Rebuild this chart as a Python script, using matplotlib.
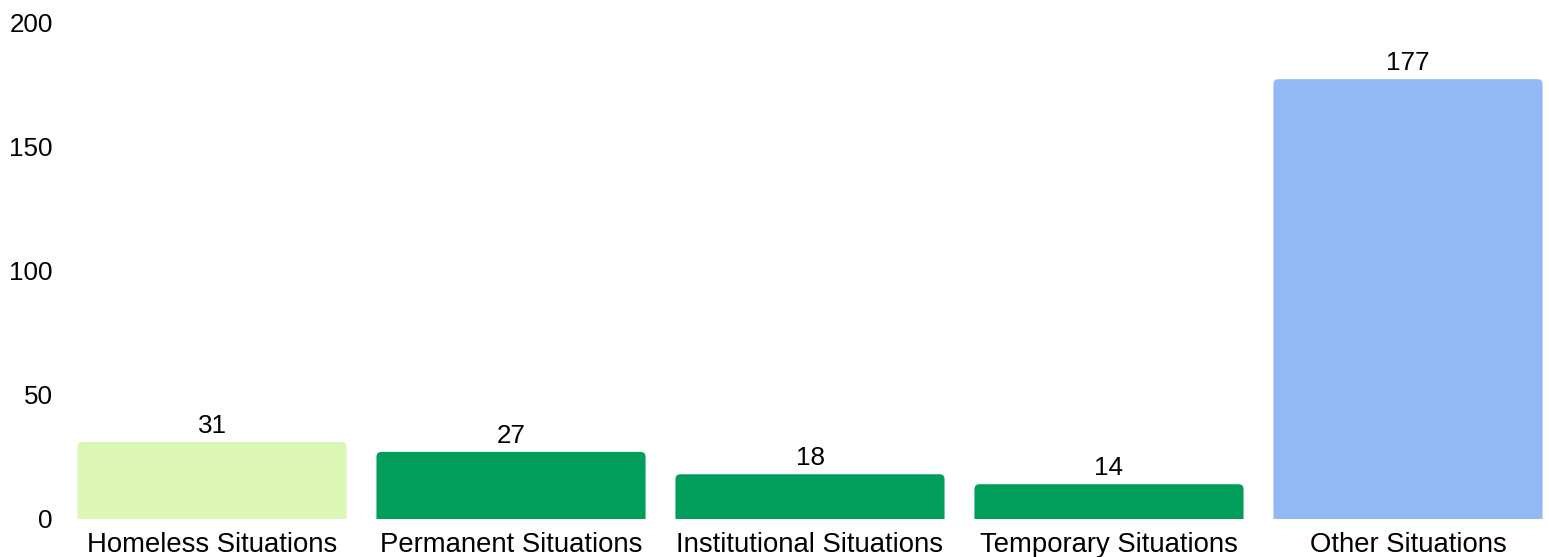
import matplotlib
matplotlib.use('Agg')
import matplotlib.pyplot as plt
from matplotlib.patches import FancyBboxPatch

categories = ['Homeless Situations', 'Permanent Situations', 'Institutional Situations',
              'Temporary Situations', 'Other Situations']
values = [31, 27, 18, 14, 177]
colors = ['#dbf6b5', '#009e5a', '#009e5a', '#009e5a', '#93b9f4']
y_ticks = [0, 50, 100, 150, 200]

plt.rcParams['font.family'] = ['Liberation Sans', 'DejaVu Sans']

W, H = 1549, 557
fig = plt.figure(figsize=(W / 100, H / 100), dpi=100)
# plot area in pixels: left 62.5, top 22, bottom 519, slot width 299 px
left_px, top_px, bot_px, slot_px = 62.5, 22, 519, 299
ax = fig.add_axes([left_px / W, (H - bot_px) / H, (W - left_px) / W, (bot_px - top_px) / H])
ax.set_xlim(-0.5, -0.5 + (W - left_px) / slot_px)
ax.set_ylim(0, 200)

bar_w = 0.9
rad_px = 5
px_per_y = (bot_px - top_px) / 200
r_x = rad_px / slot_px
aspect = (rad_px / px_per_y) / r_x
for i, (v, c) in enumerate(zip(values, colors)):
    x0 = i - bar_w / 2 + r_x
    y0 = -rad_px / px_per_y * 2
    p = FancyBboxPatch((x0, y0), bar_w - 2 * r_x, v - y0 - rad_px / px_per_y,
                       boxstyle='round,pad=%f,rounding_size=%f' % (r_x, r_x),
                       mutation_aspect=aspect, facecolor=c, edgecolor='none',
                       clip_on=True)
    ax.add_patch(p)
    ax.annotate(str(v), (i, v), xytext=(0, 6.5), textcoords='offset points',
                ha='center', va='baseline', fontsize=18.7, color='#000000')

ax.set_xticks(range(len(categories)))
ax.set_xticklabels(categories)
ax.set_yticks(y_ticks)
ax.tick_params(axis='both', length=0, labelsize=18.7, colors='#000000')
ax.tick_params(axis='x', pad=9, labelsize=19.8)
ax.tick_params(axis='y', pad=7)
for s in ax.spines.values():
    s.set_visible(False)

fig.savefig('out.png', dpi=100)
